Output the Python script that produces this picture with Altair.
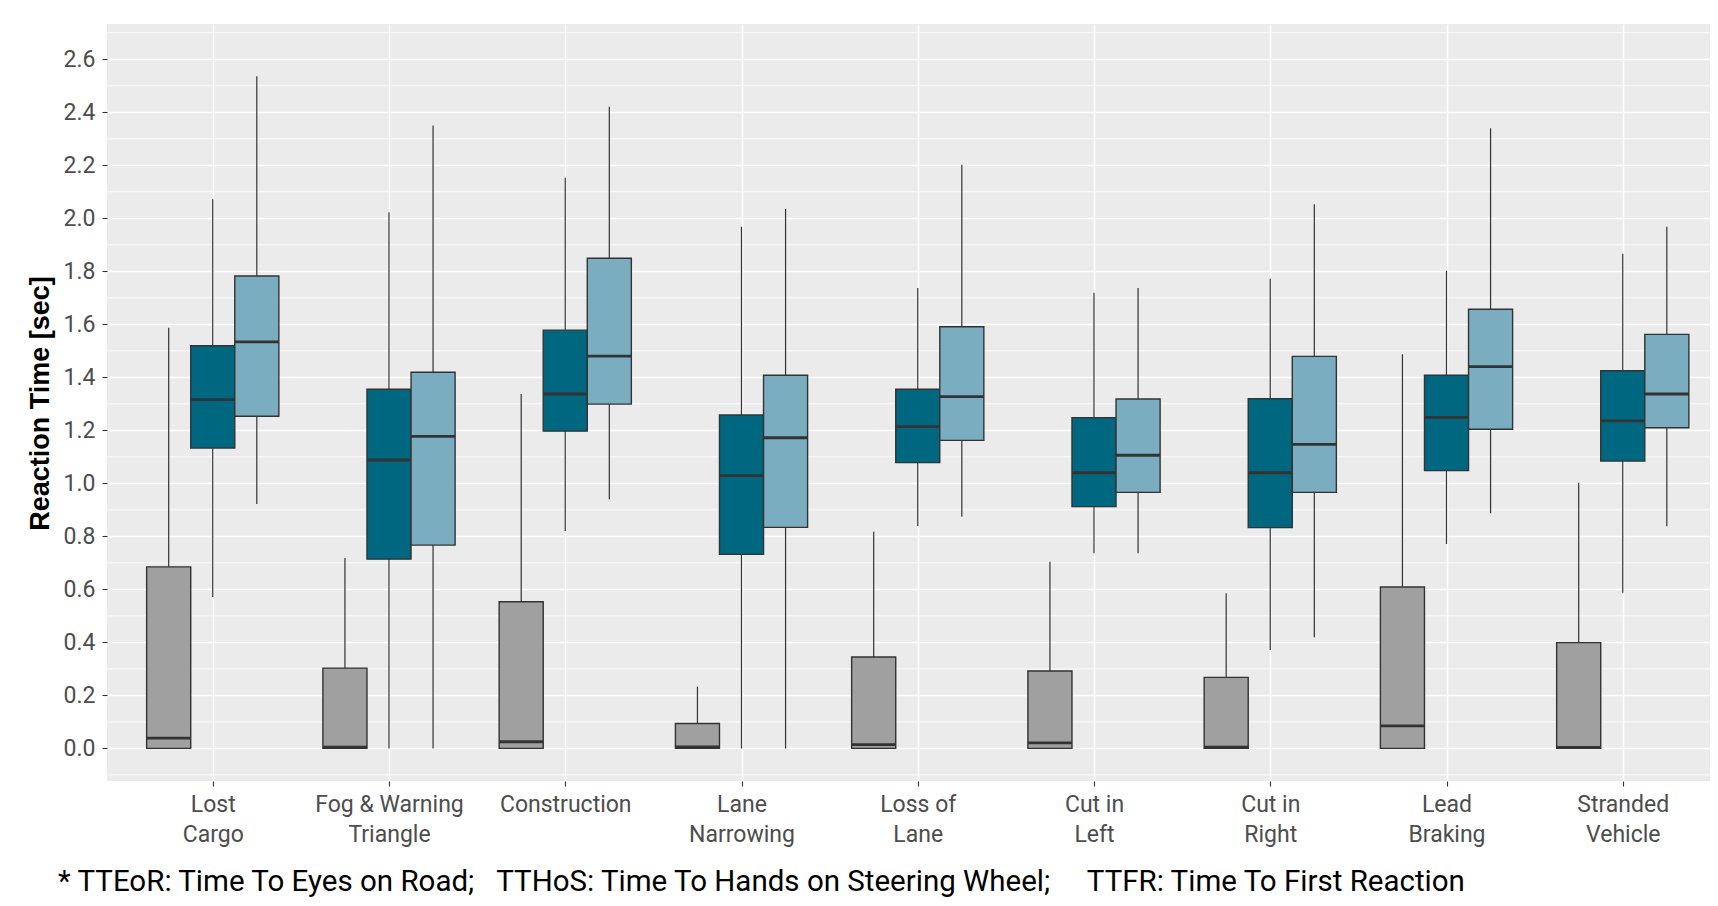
import json
import altair as alt
import pandas as pd

# ---------------- data ----------------
categories = ["Lost Cargo", "Fog & Warning Triangle", "Construction", "Lane Narrowing",
              "Loss of Lane", "Cut in Left", "Cut in Right", "Lead Braking", "Stranded Vehicle"]
tick_label_lines = [["Lost", "Cargo"], ["Fog & Warning", "Triangle"], ["Construction"],
                    ["Lane", "Narrowing"], ["Loss of", "Lane"], ["Cut in", "Left"],
                    ["Cut in", "Right"], ["Lead", "Braking"], ["Stranded", "Vehicle"]]
series = ["TTEoR", "TTHoS", "TTFR"]
series_colors = ["#A0A0A0", "#006780", "#7AADBF"]

# lower whisker, Q1, median, Q3, upper whisker
tteor_lo = [0, 0, 0, 0, 0, 0, 0, 0, 0]
tteor_q1 = [0, 0, 0, 0, 0, 0, 0, 0, 0]
tteor_med = [0.039, 0.005, 0.025, 0.006, 0.014, 0.021, 0.005, 0.085, 0.004]
tteor_q3 = [0.685, 0.303, 0.553, 0.094, 0.345, 0.292, 0.268, 0.609, 0.399]
tteor_hi = [1.587, 0.718, 1.337, 0.233, 0.817, 0.704, 0.585, 1.487, 1.002]

tthos_lo = [0.571, 0.0, 0.820, 0.0, 0.839, 0.736, 0.371, 0.771, 0.587]
tthos_q1 = [1.133, 0.714, 1.197, 0.732, 1.078, 0.912, 0.833, 1.048, 1.084]
tthos_med = [1.316, 1.088, 1.337, 1.029, 1.214, 1.040, 1.040, 1.249, 1.236]
tthos_q3 = [1.519, 1.355, 1.578, 1.258, 1.355, 1.248, 1.319, 1.408, 1.425]
tthos_hi = [2.072, 2.023, 2.153, 1.968, 1.737, 1.719, 1.772, 1.802, 1.866]

ttfr_lo = [0.922, 0.0, 0.940, 0.0, 0.874, 0.736, 0.419, 0.887, 0.838]
ttfr_q1 = [1.253, 0.767, 1.299, 0.834, 1.162, 0.966, 0.966, 1.204, 1.210]
ttfr_med = [1.534, 1.177, 1.480, 1.172, 1.327, 1.106, 1.147, 1.440, 1.337]
ttfr_q3 = [1.782, 1.419, 1.849, 1.408, 1.591, 1.318, 1.479, 1.657, 1.562]
ttfr_hi = [2.536, 2.350, 2.421, 2.035, 2.202, 1.737, 2.053, 2.340, 1.968]

y_major_ticks = [0.0, 0.2, 0.4, 0.6, 0.8, 1.0, 1.2, 1.4, 1.6, 1.8, 2.0, 2.2, 2.4, 2.6]
y_minor_ticks = [-0.1, 0.1, 0.3, 0.5, 0.7, 0.9, 1.1, 1.3, 1.5, 1.7, 1.9, 2.1, 2.3, 2.5, 2.7]

footnote = ("* TTEoR: Time To Eyes on Road;\u00a0\u00a0\u00a0TTHoS: Time To Hands on Steering Wheel;"
            "\u00a0\u00a0\u00a0\u00a0\u00a0TTFR: Time To First Reaction")

# ---------------- table ----------------
stats = {
    "TTEoR": (tteor_lo, tteor_q1, tteor_med, tteor_q3, tteor_hi),
    "TTHoS": (tthos_lo, tthos_q1, tthos_med, tthos_q3, tthos_hi),
    "TTFR": (ttfr_lo, ttfr_q1, ttfr_med, ttfr_q3, ttfr_hi),
}
rows = []
for si, s in enumerate(series):
    lo, q1, med, q3, hi = stats[s]
    for ci, c in enumerate(categories):
        rows.append(dict(category=c, idx=ci + 1, series=s, si=si,
                         lo=lo[ci], q1=q1[ci], med=med[ci], q3=q3[ci], hi=hi[ci]))
df = pd.DataFrame(rows)

W, H = 1603, 757
xscale = alt.Scale(domain=[0.4, 9.495], nice=False, zero=False)
yscale = alt.Scale(domain=[-0.123, 2.733], nice=False, zero=False)
color = alt.Color("series:N", scale=alt.Scale(domain=series, range=series_colors), legend=None)

label_expr = json.dumps(tick_label_lines) + "[datum.value - 1]"

x_axis = alt.Axis(values=list(range(1, len(categories) + 1)), labelExpr=label_expr,
                  grid=True, gridColor="white", gridWidth=1.5,
                  ticks=True, tickColor="#333333", tickSize=5, tickWidth=1.1, domain=False,
                  labelFont="Roboto", labelFontSize=23, labelColor="#4D4D4D",
                  labelPadding=7, labelLineHeight=30, labelOverlap=False, labelFlush=False,
                  labelBaseline="top", title=None)
y_axis = alt.Axis(values=y_major_ticks, format=".1f",
                  grid=True, gridColor="white", gridWidth=1.5,
                  ticks=True, tickColor="#333333", tickSize=5, tickWidth=1.1, domain=False,
                  labelFont="Roboto", labelFontSize=23, labelColor="#4D4D4D",
                  labelPadding=7, labelFlush=False, labelOverlap=False,
                  title="Reaction Time [sec]", titleFont="Liberation Sans", titleFontSize=27,
                  titleFontWeight="bold", titleColor="black",
                  titleX=-67, titleY=379, titleAngle=270, titleBaseline="middle", titleAlign="center")

base = alt.Chart(df).transform_calculate(
    pos="datum.idx + (datum.si - 1) * 0.25",
    left="datum.idx + (datum.si - 1) * 0.25 - 0.125",
    right="datum.idx + (datum.si - 1) * 0.25 + 0.125",
)

# minor horizontal grid lines (drawn under the boxes)
minor = alt.Chart(pd.DataFrame({"v": y_minor_ticks})).mark_rule(
    color="white", strokeWidth=0.8
).encode(y=alt.Y("v:Q", scale=yscale))

whiskers = base.mark_rule(color="#333333", strokeWidth=1.2).encode(
    x=alt.X("pos:Q", scale=xscale, axis=x_axis),
    y=alt.Y("lo:Q", scale=yscale, axis=y_axis),
    y2="hi:Q",
)

boxes = base.mark_bar(stroke="#333333", strokeWidth=1.4).encode(
    x=alt.X("left:Q", scale=xscale),
    x2="right:Q",
    y=alt.Y("q1:Q", scale=yscale),
    y2="q3:Q",
    fill=color,
)

medians = base.mark_rule(color="#333333", strokeWidth=2.8).encode(
    x=alt.X("left:Q", scale=xscale),
    x2="right:Q",
    y=alt.Y("med:Q", scale=yscale),
)

note = alt.Chart(pd.DataFrame({"note": [footnote]})).mark_text(
    align="left", baseline="alphabetic", font="Roboto", fontSize=29.5, color="black"
).encode(text="note:N", x=alt.value(-49), y=alt.value(867))

chart = alt.layer(minor, whiskers, boxes, medians, note).properties(
    width=W, height=H,
    padding={"left": 99, "top": 16, "right": 0, "bottom": 117},
    autosize=alt.AutoSizeParams(type="none"),
).configure_view(fill="#EBEBEB", stroke=None)

chart.save("out.html", embed_options={"renderer": "svg", "actions": False})
